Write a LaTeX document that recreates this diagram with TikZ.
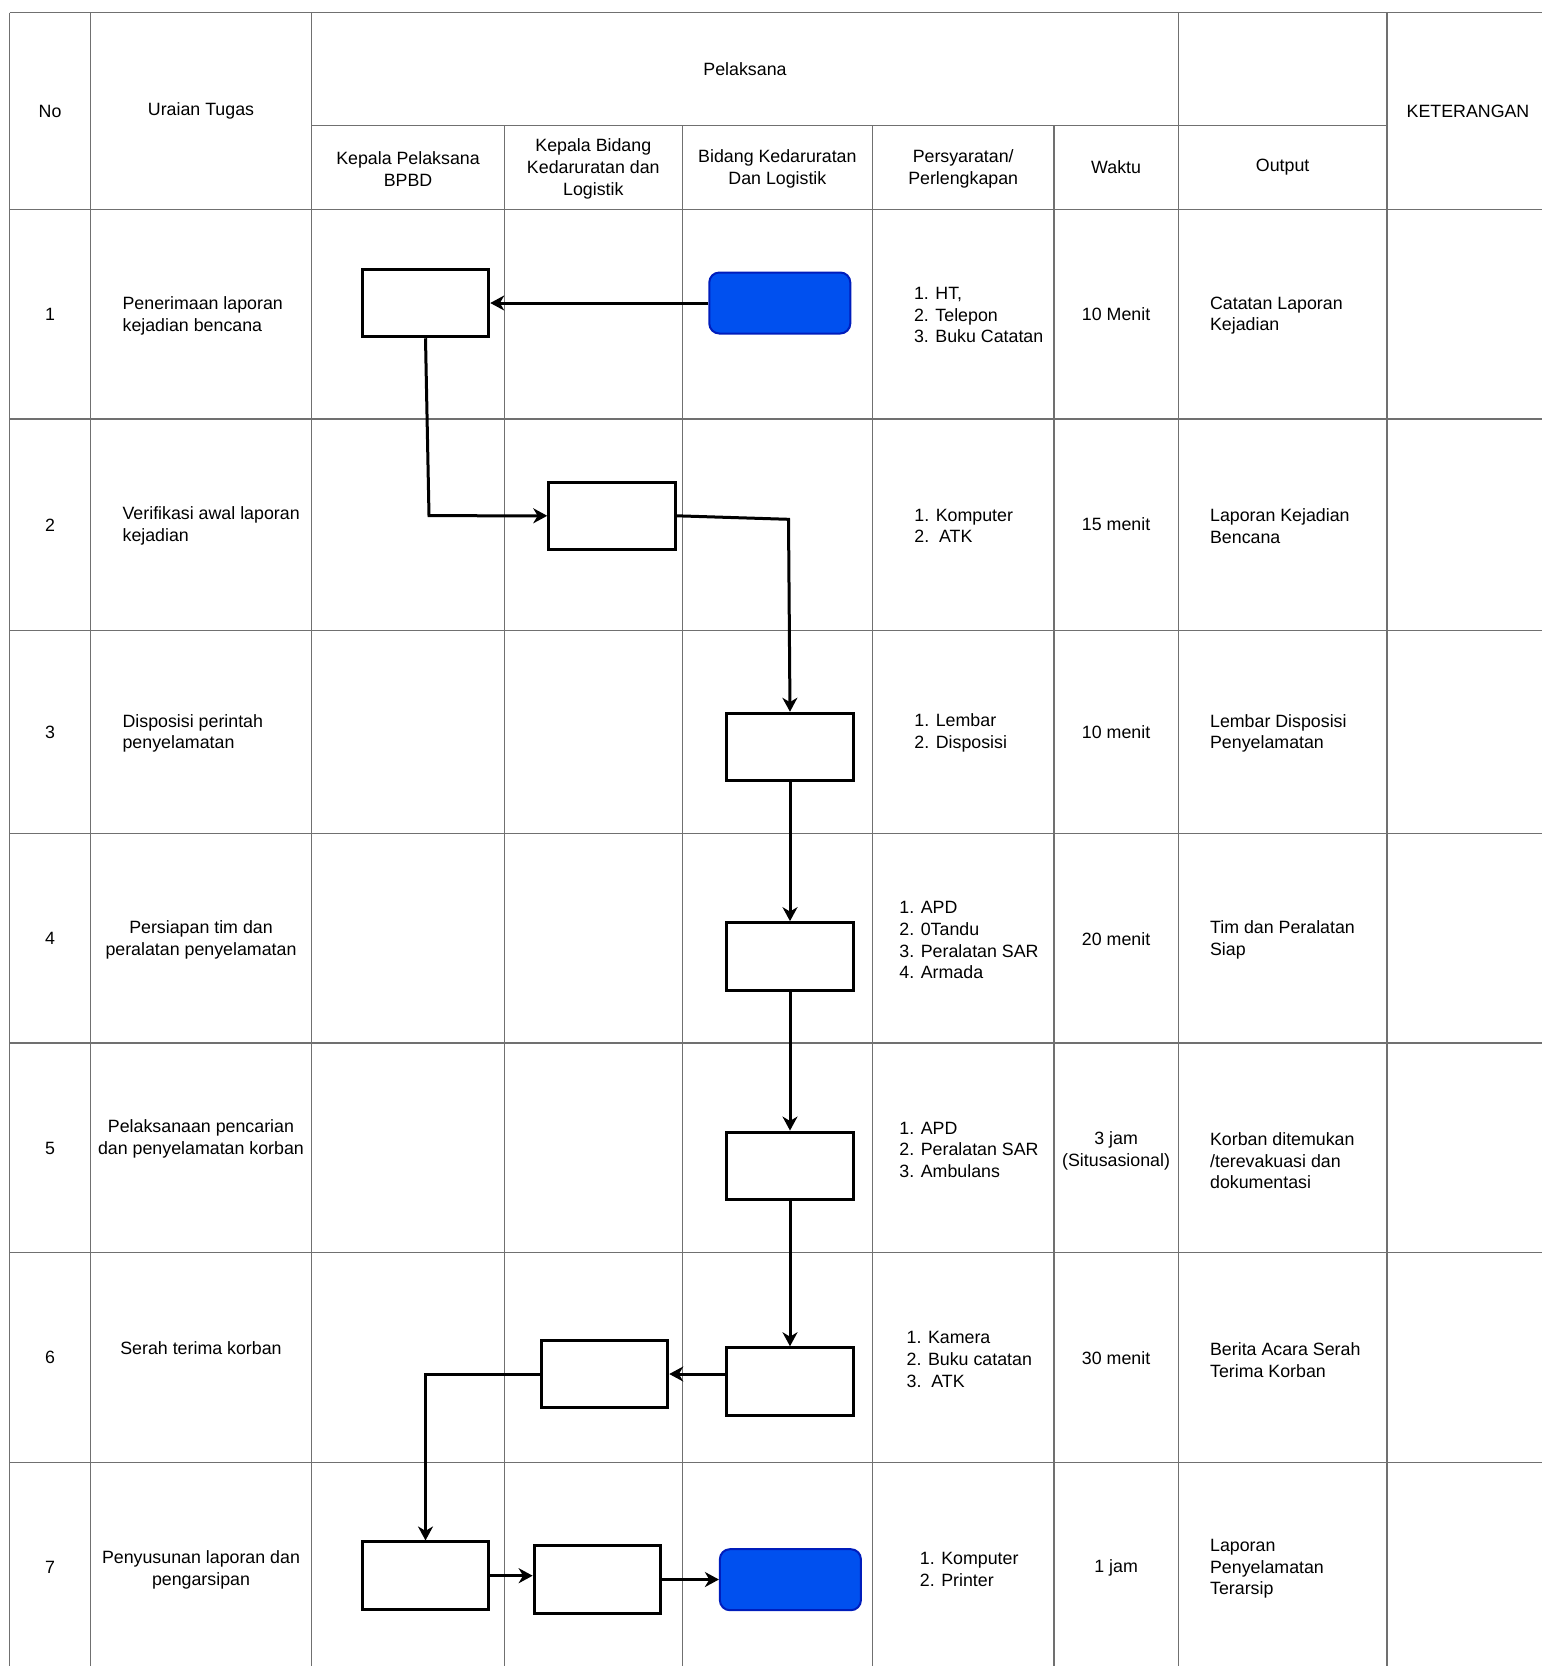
\documentclass[tikz,border=0pt]{standalone}
\usepackage{fontspec}
\setmainfont{Liberation Sans}
\usetikzlibrary{arrows.meta}
\definecolor{biru}{HTML}{0050EF}
\definecolor{birutepi}{HTML}{001DBC}
\definecolor{abu}{HTML}{707070}
\newcommand{\teks}{\fontsize{8.9}{10.85}\selectfont}
\tikzstyle{garis} = [draw=abu, line width=0.7pt]
\tikzstyle{kotak} = [rectangle, draw=black, line width=1.5pt, fill=white, minimum width=63.25pt, minimum height=33.75pt, inner sep=0pt]
\tikzstyle{ujung} = [rectangle, rounded corners=5pt, draw=birutepi, line width=1pt, fill=biru, minimum width=70.5pt, minimum height=30.5pt, inner sep=0pt]
\tikzstyle{panah} = [draw=black, line width=1.5pt, -{Stealth[length=7pt, width=7.5pt, inset=2.2pt]}]
\tikzstyle{kiri} = [anchor=west, align=left, inner sep=0pt, yshift=-0.8pt, font=\teks]
\tikzstyle{tengah} = [align=center, inner sep=0pt, yshift=-0.8pt, font=\teks]

\begin{document}
\begin{tikzpicture}[x=0.5pt, y=-0.5pt]
                \useasboundingbox (0,0) rectangle (1542,1666);

                % garis tabel
                \draw[garis] (9.7,12.5) -- (1542,12.5);
                \draw[garis] (311.6,125.4) -- (1387,125.4);
                \draw[garis] (9.7,209.4) -- (1542,209.4);
                \draw[garis] (9.7,418.8) -- (1542,418.8);
                \draw[garis] (9.7,630.5) -- (1542,630.5);
                \draw[garis] (9.7,833.3) -- (1542,833.3);
                \draw[garis] (9.7,1042.8) -- (1542,1042.8);
                \draw[garis] (9.7,1252.7) -- (1542,1252.7);
                \draw[garis] (9.7,1462.3) -- (1542,1462.3);
                \draw[garis] (9.7,12.5) -- (9.7,1666);
                \draw[garis] (90.5,12.5) -- (90.5,1666);
                \draw[garis] (311.6,12.5) -- (311.6,1666);
                \draw[garis] (504.4,125.4) -- (504.4,1666);
                \draw[garis] (682.2,125.4) -- (682.2,1666);
                \draw[garis] (872.6,125.4) -- (872.6,1666);
                \draw[garis] (1053.9,125.4) -- (1053.9,1666);
                \draw[garis] (1178.4,12.5) -- (1178.4,1666);
                \draw[garis] (1387,12.5) -- (1387,1666);

                % judul kolom
                \node [tengah] (hNo) at (50.1,109.5) {No};
                \node [tengah] (hUraian) at (201,109.5) {Uraian Tugas};
                \node [tengah] (hPelaksana) at (745,67.5) {Pelaksana};
                \node [tengah] (hKet) at (1468,109.5) {KETERANGAN};
                \node [tengah] (hKalak) at (408,167.4) {Kepala Pelaksana\\BPBD};
                \node [tengah] (hKabid) at (593.3,167.4) {Kepala Bidang\\Kedaruratan dan\\Logistik};
                \node [tengah] (hBidang) at (777.4,167.4) {Bidang Kedaruratan\\Dan Logistik};
                \node [tengah] (hSyarat) at (963.2,167.4) {Persyaratan/\\Perlengkapan};
                \node [tengah] (hWaktu) at (1116.1,166) {Waktu};
                \node [tengah] (hOutput) at (1282.7,166) {Output};

                % nomor
                \node [tengah] (no1) at (50.1,312.8) {1};
                \node [tengah] (no2) at (50.1,523.3) {2};
                \node [tengah] (no3) at (50.1,730.6) {3};
                \node [tengah] (no4) at (50.1,936.7) {4};
                \node [tengah] (no5) at (50.1,1146.4) {5};
                \node [tengah] (no6) at (50.1,1356.2) {6};
                \node [tengah] (no7) at (50.1,1565.7) {7};

                % uraian tugas
                \node [kiri] (tugas1) at (122.2,314.1) {Penerimaan laporan\\kejadian bencana};
                \node [kiri] (tugas2) at (122.2,524.6) {Verifikasi awal laporan\\kejadian};
                \node [kiri] (tugas3) at (122.2,731.9) {Disposisi perintah\\penyelamatan};
                \node [tengah] (tugas4) at (201,938.5) {Persiapan tim dan\\peralatan penyelamatan};
                \node [tengah] (tugas5) at (201,1137.5) {Pelaksanaan pencarian\\dan penyelamatan korban};
                \node [tengah] (tugas6) at (201,1346.4) {Serah terima korban};
                \node [tengah] (tugas7) at (201,1568) {Penyusunan laporan dan\\pengarsipan};

                % persyaratan
                \node [kiri] (syarat1) at (913.6,313.5) {1. HT,\\2. Telepon\\3. Buku Catatan};
                \node [kiri] (syarat2) at (914,524.2) {1. Komputer\\2.\ \ ATK};
                \node [kiri] (syarat3) at (914,731.5) {1. Lembar\\2. Disposisi};
                \node [kiri] (syarat4) at (899,938.7) {1. APD\\2. 0Tandu\\3. Peralatan SAR\\4. Armada};
                \node [kiri] (syarat5) at (899,1148.3) {1. APD\\2. Peralatan SAR\\3. Ambulans};
                \node [kiri] (syarat6) at (906.2,1358) {1. Kamera\\2. Buku catatan\\3.\ \ ATK};
                \node [kiri] (syarat7) at (919.5,1567.5) {1. Komputer\\2. Printer};

                % waktu
                \node [tengah] (waktu1) at (1116.1,312.7) {10 Menit};
                \node [tengah] (waktu2) at (1116.1,523) {15 menit};
                \node [tengah] (waktu3) at (1116.1,730.4) {10 menit};
                \node [tengah] (waktu4) at (1116.1,937.2) {20 menit};
                \node [tengah] (waktu5) at (1116.1,1149) {3 jam\\(Situsasional)};
                \node [tengah] (waktu6) at (1116.1,1356.4) {30 menit};
                \node [tengah] (waktu7) at (1116.1,1566.4) {1 jam};

                % output
                \node [kiri] (hasil1) at (1209.7,314) {Catatan Laporan\\Kejadian};
                \node [kiri] (hasil2) at (1209.7,524.2) {Laporan Kejadian\\Bencana};
                \node [kiri] (hasil3) at (1209.7,731.7) {Lembar Disposisi\\Penyelamatan};
                \node [kiri] (hasil4) at (1209.7,938.5) {Tim dan Peralatan\\Siap};
                \node [kiri] (hasil5) at (1209.7,1159.2) {Korban ditemukan\\/terevakuasi dan\\dokumentasi};
                \node [kiri] (hasil6) at (1209.7,1358.3) {Berita Acara Serah\\Terima Korban};
                \node [kiri] (hasil7) at (1209.7,1567.3) {Laporan\\Penyelamatan\\Terarsip};

                % kotak alur
                \node [kotak] (terima) at (425.5,303) {};
                \node [ujung] (mulai) at (779.8,303) {};
                \node [kotak] (verif) at (612,515.8) {};
                \node [kotak] (dispo) at (790,747) {};
                \node [kotak] (siap) at (790,956.4) {};
                \node [kotak] (cari) at (790,1165.8) {};
                \node [kotak] (serah) at (790,1381.5) {};
                \node [kotak] (terimakb) at (604.5,1374) {};
                \node [kotak] (susun) at (425.5,1575.7) {};
                \node [kotak] (arsip) at (597.4,1579.5) {};
                \node [ujung] (selesai) at (790.4,1579.7) {};

                % panah
                \coordinate (belok1) at (429,515.7);
                \coordinate (belok2) at (788.5,519.3);
                \draw [panah] (mulai) -- (terima);
                \draw [panah] (terima.south) -- (belok1) -- (verif.west);
                \draw [panah] (verif.east) -- (belok2) -- (dispo.north);
                \draw [panah] (dispo) -- (siap);
                \draw [panah] (siap) -- (cari);
                \draw [panah] (cari) -- (serah);
                \draw [panah] (serah.west |- terimakb.east) -- (terimakb.east);
                \draw [panah] (terimakb.west) -| (susun.north);
                \draw [panah] (susun.east) -- (susun.east -| arsip.west);
                \draw [panah] (arsip.east) -- (arsip.east -| selesai.west);
            \end{tikzpicture}
\end{document}
